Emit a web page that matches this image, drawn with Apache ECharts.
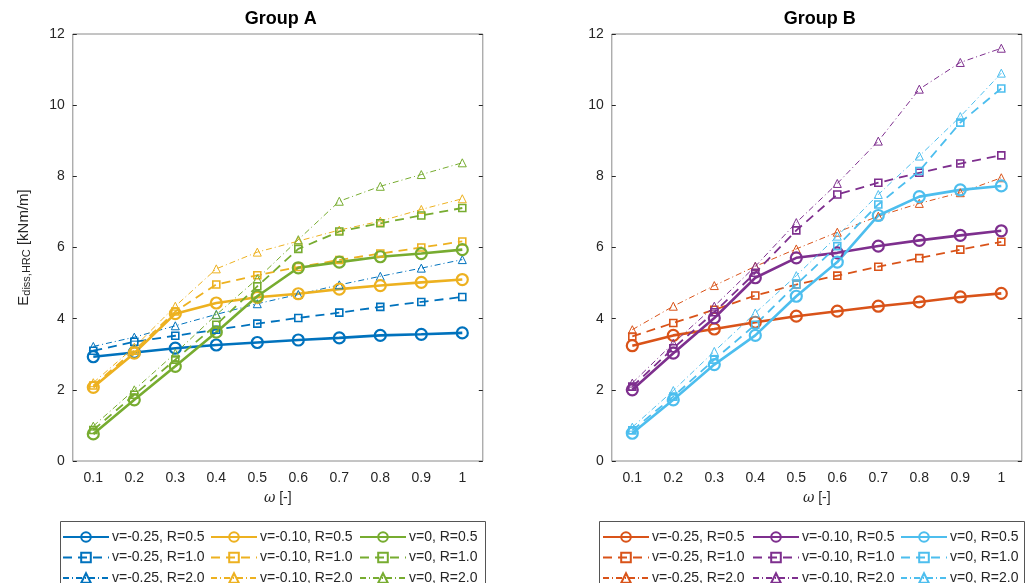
<!DOCTYPE html>
<html>
<head>
<meta charset="utf-8">
<script src="https://cdn.jsdelivr.net/npm/echarts@6/dist/echarts.min.js"></script>
<style>
  html, body { margin: 0; padding: 0; background: #fff; }
  #chartA { position: absolute; left: 0; top: 0; width: 545px; height: 583px; }
  #chartB { position: absolute; left: 545px; top: 0; width: 484px; height: 583px; }
</style>
</head>
<body>
<div id="chartA"></div>
<div id="chartB"></div>
<script>
const omega = ['0.1', '0.2', '0.3', '0.4', '0.5', '0.6', '0.7', '0.8', '0.9', '1'];
const nuLabels = ['-0.25', '-0.10', '0'];
const rLabels = ['0.5', '1.0', '2.0'];

const colorsA = ['#0072BD', '#EDB120', '#77AC30'];
const colorsB = ['#D95319', '#7E2F8E', '#4DBEEE'];

// Group A
const a_m025_r05 = [2.93, 3.05, 3.17, 3.26, 3.33, 3.40, 3.46, 3.53, 3.56, 3.60];
const a_m025_r10 = [3.10, 3.35, 3.52, 3.69, 3.86, 4.02, 4.17, 4.33, 4.47, 4.61];
const a_m025_r20 = [3.22, 3.48, 3.80, 4.12, 4.42, 4.68, 4.95, 5.19, 5.42, 5.66];
const a_m010_r05 = [2.07, 3.03, 4.14, 4.44, 4.60, 4.70, 4.83, 4.93, 5.02, 5.10];
const a_m010_r10 = [2.12, 3.10, 4.20, 4.96, 5.22, 5.45, 5.65, 5.83, 6.00, 6.17];
const a_m010_r20 = [2.20, 3.20, 4.35, 5.40, 5.87, 6.18, 6.49, 6.74, 7.07, 7.37];
const a_0_r05 = [0.76, 1.72, 2.66, 3.62, 4.63, 5.43, 5.59, 5.74, 5.83, 5.94];
const a_0_r10 = [0.87, 1.86, 2.85, 3.83, 4.91, 5.96, 6.45, 6.68, 6.90, 7.11];
const a_0_r20 = [0.98, 2.00, 3.03, 4.11, 5.12, 6.22, 7.30, 7.72, 8.05, 8.38];

// Group B
const b_m025_r05 = [3.24, 3.53, 3.71, 3.90, 4.07, 4.21, 4.35, 4.47, 4.61, 4.71];
const b_m025_r10 = [3.50, 3.88, 4.25, 4.65, 4.96, 5.21, 5.46, 5.70, 5.94, 6.16];
const b_m025_r20 = [3.69, 4.35, 4.93, 5.47, 5.96, 6.43, 6.88, 7.24, 7.54, 7.96];
const b_m010_r05 = [2.00, 3.03, 4.02, 5.15, 5.71, 5.85, 6.04, 6.20, 6.34, 6.47];
const b_m010_r10 = [2.09, 3.17, 4.18, 5.29, 6.48, 7.49, 7.82, 8.10, 8.36, 8.59];
const b_m010_r20 = [2.19, 3.31, 4.35, 5.47, 6.70, 7.80, 8.99, 10.45, 11.20, 11.60];
const b_0_r05 = [0.78, 1.72, 2.71, 3.53, 4.63, 5.59, 6.90, 7.43, 7.62, 7.73];
const b_0_r10 = [0.86, 1.81, 2.85, 3.83, 4.96, 6.04, 7.21, 8.15, 9.51, 10.47];
const b_0_r20 = [0.95, 1.98, 3.08, 4.16, 5.21, 6.32, 7.49, 8.57, 9.68, 10.90];

const groupA = [[a_m025_r05, a_m025_r10, a_m025_r20], [a_m010_r05, a_m010_r10, a_m010_r20], [a_0_r05, a_0_r10, a_0_r20]];
const groupB = [[b_m025_r05, b_m025_r10, b_m025_r20], [b_m010_r05, b_m010_r10, b_m010_r20], [b_0_r05, b_0_r10, b_0_r20]];

// line look per R value
const rStyles = [
  { type: 'solid', width: 2.6, symbol: 'circle', size: 11, border: 2.2 },
  { type: [9, 6], width: 1.8, symbol: 'rect', size: 7, border: 1.6 },
  { type: [6, 3, 1, 3], width: 1, symbol: 'triangle', size: 8, border: 1 }
];

const FONT = 'Liberation Sans, Arial, sans-serif';
const TXT = '#262626';

function makeSeries(group, colors) {
  const out = [];
  group.forEach((rows, n) => rows.forEach((vals, r) => {
    const st = rStyles[r];
    out.push({
      name: `v=${nuLabels[n]}, R=${rLabels[r]}`,
      type: 'line',
      data: vals,
      symbol: st.symbol,
      symbolSize: st.size,
      showAllSymbol: true,
      lineStyle: { color: colors[n], width: st.width, type: st.type },
      itemStyle: { color: 'rgba(255,255,255,0)', borderColor: colors[n], borderWidth: st.border },
      emphasis: { disabled: true },
      animation: false
    });
  }));
  return out;
}

function buildChart(el, title, group, colors, gridLeft, legendX, boxX, showYName) {
  const chart = echarts.init(el);
  const names = nuLabels.map(n => rLabels.map(r => `v=${n}, R=${r}`));
  chart.setOption({
    animation: false,
    title: {
      text: title, left: gridLeft + 203, top: 5, textAlign: 'center',
      textStyle: { fontFamily: FONT, fontSize: 18, fontWeight: 'bold', color: '#000' }
    },
    grid: { left: gridLeft, top: 34, width: 410, height: 427, show: true, borderColor: '#8a8a8a', borderWidth: 1 },
    xAxis: [
      {
        type: 'category', data: omega, boundaryGap: true, position: 'bottom',
        axisLine: { show: false },
        axisTick: { inside: true, alignWithLabel: true, length: 4, lineStyle: { color: TXT } },
        axisLabel: { color: TXT, fontFamily: FONT, fontSize: 14, margin: 10 },
        name: '{i|ω} [-]', nameLocation: 'middle', nameGap: 30,
        nameTextStyle: { color: TXT, fontFamily: FONT, fontSize: 14, rich: { i: { fontStyle: 'italic', fontFamily: 'DejaVu Serif', fontSize: 14, color: TXT } } }
      },
      {
        type: 'category', data: omega, boundaryGap: true, position: 'top',
        axisLine: { show: false },
        axisTick: { inside: true, alignWithLabel: true, length: 4, lineStyle: { color: TXT } },
        axisLabel: { show: false }
      }
    ],
    yAxis: [
      {
        type: 'value', min: 0, max: 12, interval: 2, position: 'left',
        splitLine: { show: false }, axisLine: { show: false },
        axisTick: { show: true, inside: true, length: 4, lineStyle: { color: TXT } },
        axisLabel: { color: TXT, fontFamily: FONT, fontSize: 14, margin: 8 },
        name: showYName ? '{a|E}{s|diss,HRC}{a| [kNm/m]}' : '',
        nameLocation: 'middle', nameRotate: 90, nameGap: 40,
        nameTextStyle: {
          color: TXT, fontFamily: FONT,
          rich: {
            a: { fontSize: 15, color: TXT, fontFamily: FONT },
            s: { fontSize: 11, color: TXT, fontFamily: FONT, verticalAlign: 'bottom', padding: [6, 0, 0, 0] }
          }
        }
      },
      {
        type: 'value', min: 0, max: 12, interval: 2, position: 'right',
        splitLine: { show: false }, axisLine: { show: false },
        axisTick: { show: true, inside: true, length: 4, lineStyle: { color: TXT } },
        axisLabel: { show: false }
      }
    ],
    legend: legendX.map((x, i) => ({
      orient: 'vertical', left: x, top: 530, height: 80, padding: 0,
      itemWidth: 46, itemHeight: 12, itemGap: 6.5,
      data: names[i],
      selectedMode: false,
      textStyle: { fontFamily: FONT, fontSize: 14, color: TXT, padding: [0, 0, 0, -2] }
    })),
    graphic: [{
      type: 'rect', left: boxX, top: 519, silent: true,
      shape: { width: 425, height: 62 },
      style: { fill: 'none', stroke: '#555', lineWidth: 1 }
    }],
    series: makeSeries(group, colors)
  });
  return chart;
}

buildChart(document.getElementById('chartA'), 'Group A', groupA, colorsA, 72.8, [62, 210, 359], 58, true);
buildChart(document.getElementById('chartB'), 'Group B', groupB, colorsB, 66.8, [57, 207, 355], 52, false);
</script>
</body>
</html>
